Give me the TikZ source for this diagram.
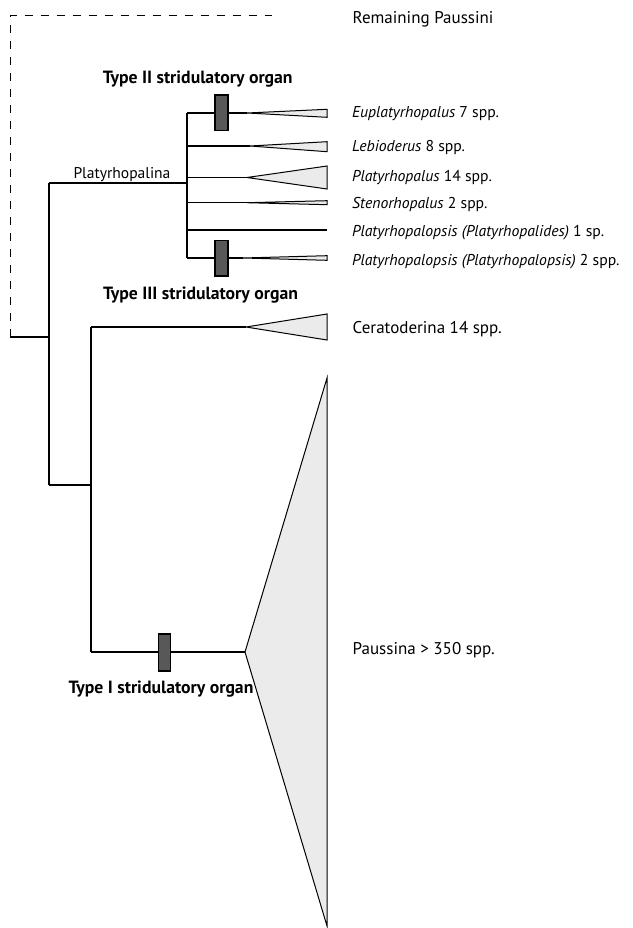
\documentclass[tikz,border=0pt]{standalone}
\usepackage{fontspec}
\setmainfont{PT Sans}
\definecolor{trifill}{HTML}{EBEBEB}
\definecolor{boxfill}{HTML}{585858}
\begin{document}
\begin{tikzpicture}[x=1pt,y=-1pt,
  br/.style={draw=black,line width=1.15pt},
  tri/.style={draw=black,fill=trifill,line width=1pt,line join=miter},
  organ/.style={draw=black,fill=boxfill,line width=1.2pt},
  lab/.style={anchor=base west,inner sep=0pt,font=\fontsize{17}{19}\selectfont},
  ilab/.style={anchor=base west,inner sep=0pt,font=\fontsize{15.7}{18}\selectfont},
  blab/.style={anchor=base,inner sep=0pt,font=\fontsize{17.7}{20}\selectfont\bfseries}]
\useasboundingbox (0,0) rectangle (632,928);
% coordinates
\coordinate (root) at (10,337);
\coordinate (rootv) at (49,337);
\coordinate (rtop) at (10,16);
\coordinate (remend) at (272,16);
\coordinate (pltop) at (49,183);
\coordinate (plbot) at (49,485);
\coordinate (plv) at (187,183);
\coordinate (cpv) at (91,485);
\coordinate (v1) at (187,113);
\coordinate (v6) at (187,258);
% dashed
\draw[br,line width=1pt,dash pattern=on 8pt off 8pt] (root) -- (rtop) -- (remend);
\node[lab] (rem) at (352.5,23.3) {Remaining Paussini};
% root
\draw[br] (root) -- (rootv);
\draw[br] (pltop) -- (plbot);
\draw[br] (pltop) -- (plv);
\node[anchor=base west,inner sep=0pt,font=\fontsize{15.6}{18}\selectfont] (plat) at (73.3,178.3) {Platyrhopalina};
% Platyrhopalina vertical
\draw[br] (v1) -- (v6);
% terminals
\coordinate (a1) at (247,113); \coordinate (a2) at (250,146); \coordinate (a3) at (247,177.5);
\coordinate (a4) at (247,202.7); \coordinate (a5) at (327,230); \coordinate (a6) at (243,258);
\draw[br] (v1) -- (a1);
\draw[br] (187,146) -- (a2);
\draw[br] (187,177.5) -- (a3);
\draw[br] (187,202.7) -- (a4);
\draw[br] (187,230) -- (a5);
\draw[br] (v6) -- (a6);
\draw[tri] (a1) -- (327,109.3) -- (327,117.3) -- cycle;
\draw[tri] (a2) -- (327,141.7) -- (327,151.7) -- cycle;
\draw[tri] (a3) -- (327,166) -- (327,189) -- cycle;
\draw[tri] (a4) -- (327,200.7) -- (327,204.7) -- cycle;
\draw[tri] (a6) -- (327,255.7) -- (327,260.3) -- cycle;
\node[ilab] (t1) at (352,117.3) {\textit{Euplatyrhopalus} 7 spp.};
\node[ilab] (t2) at (352,151.5) {\textit{Lebioderus} 8 spp.};
\node[ilab] (t3) at (352,181.7) {\textit{Platyrhopalus} 14 spp.};
\node[ilab] (t4) at (352,208.3) {\textit{Stenorhopalus} 2 spp.};
\node[ilab] (t5) at (352,236.7) {\textit{Platyrhopalopsis (Platyrhopalides)} 1 sp.};
\node[ilab] (t6) at (352,265) {\textit{Platyrhopalopsis (Platyrhopalopsis)} 2 spp.};
% organs II & III
\draw[organ] (215,95) rectangle (228,130.5);
\draw[organ] (215,240.7) rectangle (228,276);
\node[blab] (o2) at (197.7,84) {Type II stridulatory organ};
\node[blab] (o3) at (200.5,299) {Type III stridulatory organ};
% Ceratoderina + Paussina
\draw[br] (plbot) -- (cpv);
\coordinate (cv1) at (91,327);
\coordinate (cv2) at (91,652);
\coordinate (cerA) at (246,327);
\coordinate (pauA) at (245,652);
\draw[br] (cv1) -- (cv2);
\draw[br] (cv1) -- (cerA);
\draw[br] (cv2) -- (pauA);
\draw[tri] (cerA) -- (327,314) -- (327,340) -- cycle;
\draw[tri] (pauA) -- (327,378) -- (327,926) -- cycle;
\node[lab] (cer) at (352.5,333.3) {Ceratoderina 14 spp.};
\node[lab] (pau) at (352.5,654) {Paussina > 350 spp.};
\draw[organ] (158.3,634) rectangle (170.7,671);
\node[blab] (o1) at (161,693) {Type I stridulatory organ};
\end{tikzpicture}
\end{document}
